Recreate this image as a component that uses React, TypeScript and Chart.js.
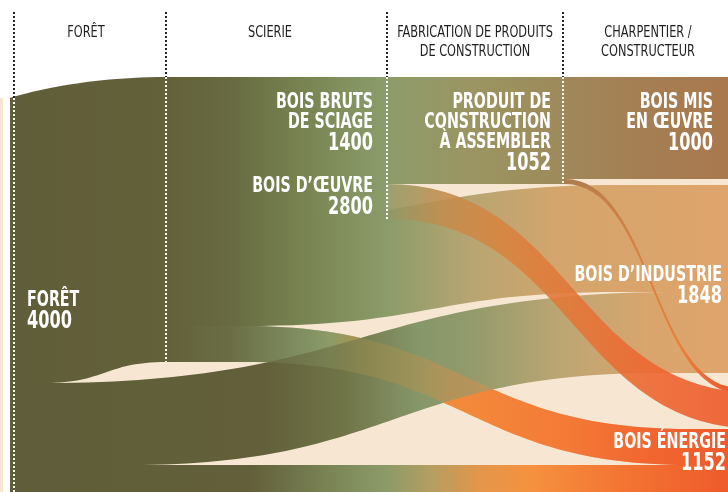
import React, { useEffect, useRef } from "react";
import { Chart, registerables } from "chart.js";

Chart.register(...registerables);

// ---------- DATA ----------
const STAGES: string[][] = [
  ["FORÊT"],
  ["SCIERIE"],
  ["FABRICATION DE PRODUITS", "DE CONSTRUCTION"],
  ["CHARPENTIER /", "CONSTRUCTEUR"],
];

const NODE_LABELS: string[][] = [
  ["FORÊT"],
  ["BOIS D’ŒUVRE"],
  ["BOIS BRUTS", "DE SCIAGE"],
  ["PRODUIT DE", "CONSTRUCTION", "À ASSEMBLER"],
  ["BOIS MIS", "EN ŒUVRE"],
  ["BOIS D’INDUSTRIE"],
  ["BOIS ÉNERGIE"],
];
const NODE_VALUES = [4000, 2800, 1400, 1052, 1000, 1848, 1152];

const FLOW_SOURCE = [0, 0, 0, 1, 1, 1, 2, 2, 3, 3];
const FLOW_TARGET = [1, 5, 6, 2, 5, 6, 3, 6, 4, 6];
const FLOW_VALUE = [2800, 800, 400, 1400, 1048, 352, 1052, 348, 1000, 52];

// ---------- LAYOUT (positions, not data) ----------
const X_MAX = 728;
const Y_MAX = 4833;
const NODE_X = [10, 166, 386, 562, 728, 728, 728];
const NODE_TOP = [963, 756, 756, 756, 756, 1817, 3811];
const NODE_BLOCK_END = [10, 245, 386, 565, 728, 728, 728];
// top edge curve [curveStart, curveEnd, handleStart, handleEnd] or null for straight flows
const FLOW_CURVE_TOP: (number[] | null)[] = [
  [10, 166, 0, 0.6],
  [45, 680, 0.5, 0.5],
  null,
  null,
  [245, 620, 0.5, 0.5],
  [245, 690, 0.5, 0.5],
  null,
  [386, 760, 0.5, 0.5],
  null,
  [565, 740, 0.5, 0.5],
];
// bottom edge curve (defaults to top edge curve)
const FLOW_CURVE_BOTTOM: (number[] | null)[] = [
  [45, 166, 0.5, 0.5],
  [130, 660, 0.5, 0.5],
  null,
  null,
  [245, 620, 0.5, 0.5],
  [245, 690, 0.5, 0.5],
  null,
  [386, 760, 0.5, 0.5],
  null,
  [565, 740, 0.5, 0.5],
];
// [flow index, opacity] in painting order
const DRAW_STEPS: [number, number][] = [
  [0, 1], [3, 1], [6, 1], [8, 1], [2, 1], [4, 1], [5, 1], [1, 1], [5, 0.35], [7, 0.9], [9, 1],
];
const STAGE_LINE_X = [14, 166, 387, 563];
const STAGE_LINE_NODE = [0, 1, 2, 3];
const HEADER_X = [86, 270, 475, 648];
// [x, align, baseline offset from node top in px]
const LABEL_POS: [number, CanvasTextAlign, number][] = [
  [27, "left", 208],
  [373, "right", 115],
  [373, "right", 31],
  [551, "right", 31],
  [713, "right", 31],
  [722, "right", 96],
  [726, "right", 60],
];

// ---------- STYLE ----------
const BEIGE = "#F6E6D2";
const FLOW_COLORS: [number, string][][] = [
  [[10, "#605D3A"], [166, "#636139"]],
  [[10, "#605D3A"], [260, "#625F3A"], [340, "#6F7346"], [420, "#86976A"], [470, "#929A6B"], [560, "#BCA673"], [650, "#D9A56D"], [728, "#DFA46B"]],
  [[10, "#605D3A"], [250, "#625F3A"], [330, "#7A8556"], [385, "#8B9A68"], [430, "#B39E62"], [480, "#E3964A"], [530, "#F5913E"], [620, "#F37533"], [728, "#EE5A2B"]],
  [[166, "#636139"], [230, "#686A41"], [300, "#778350"], [386, "#8B9D6B"]],
  [[166, "#636139"], [230, "#686A41"], [300, "#778350"], [390, "#8C9C6A"], [470, "#B7A572"], [560, "#D4A56C"], [728, "#DFA46B"]],
  [[166, "#636139"], [230, "#6B6E45"], [300, "#7F8E60"], [330, "#8C9B68"], [360, "#A99450"], [415, "#C98F42"], [450, "#F28B3B"], [560, "#F47B36"], [650, "#F16630"], [728, "#EE5A2B"]],
  [[386, "#8C9C6A"], [470, "#9A9562"], [562, "#9E8A5B"]],
  [[386, "#8E9A68"], [440, "#C08E50"], [500, "#D8843F"], [580, "#E47537"], [660, "#EE6530"], [728, "#EE5A2B"]],
  [[562, "#9F885A"], [640, "#A57F54"], [728, "#A9784D"]],
  [[562, "#A97B50"], [620, "#D07F45"], [680, "#E8803A"], [728, "#EE5A2B"]],
];
const FONT_STACK = '"Liberation Sans Narrow", "DejaVu Sans Condensed", "Roboto", sans-serif';

function drawScaledText(ctx: CanvasRenderingContext2D, text: string, x: number, y: number, sx: number, align: CanvasTextAlign) {
  ctx.save();
  ctx.translate(x, y);
  ctx.scale(sx, 1);
  ctx.textAlign = align;
  ctx.textBaseline = "alphabetic";
  ctx.fillText(text, 0, 0);
  ctx.restore();
}

function makeGradient(ctx: CanvasRenderingContext2D, stops: [number, string][], X: (v: number) => number) {
  const gx0 = X(stops[0][0]);
  const gx1 = X(stops[stops.length - 1][0]);
  const grad = ctx.createLinearGradient(gx0, 0, gx1, 0);
  stops.forEach(([sx, col]) => grad.addColorStop((X(sx) - gx0) / (gx1 - gx0), col));
  return grad;
}

function drawSankey(chart: any) {
  const ctx: CanvasRenderingContext2D = chart.ctx;
  const xs = chart.scales.x;
  const ys = chart.scales.y;
  const X = (v: number) => Math.round(xs.getPixelForValue(v));
  const Y = (v: number) => Math.round(ys.getPixelForValue(v));

  // stacking offsets
  const outOff = NODE_TOP.slice();
  const inOff = NODE_TOP.slice();
  const srcTop: number[] = [];
  const tgtTop: number[] = [];
  FLOW_VALUE.forEach((v, i) => {
    srcTop[i] = outOff[FLOW_SOURCE[i]];
    outOff[FLOW_SOURCE[i]] += v;
  });
  const inOrder = FLOW_VALUE.map((_, i) => i).sort(
    (a, b) => FLOW_TARGET[a] - FLOW_TARGET[b] || FLOW_SOURCE[b] - FLOW_SOURCE[a]
  );
  inOrder.forEach((i) => {
    tgtTop[i] = inOff[FLOW_TARGET[i]];
    inOff[FLOW_TARGET[i]] += FLOW_VALUE[i];
  });

  const H = chart.height;
  ctx.save();
  // background
  ctx.fillStyle = BEIGE;
  ctx.fillRect(X(NODE_X[1]), Y(NODE_TOP[1]), X(X_MAX) - X(NODE_X[1]), H);
  ctx.fillRect(X(NODE_X[0]), Y(NODE_TOP[0]), X(NODE_X[1]) - X(NODE_X[0]) + 1, H);
  ctx.fillRect(0, Y(NODE_TOP[0]), 3, H);

  // node blocks (solid part of a node before its flows split)
  NODE_VALUES.forEach((v, n) => {
    const x0 = X(NODE_X[n]);
    const x1 = X(NODE_BLOCK_END[n]);
    if (x1 <= x0) return;
    const first = FLOW_SOURCE.indexOf(n);
    if (first < 0) return;
    ctx.fillStyle = makeGradient(ctx, FLOW_COLORS[first], X);
    ctx.fillRect(x0, Y(NODE_TOP[n]), x1 - x0, Y(NODE_TOP[n] + v) - Y(NODE_TOP[n]));
  });

  // flows
  DRAW_STEPS.forEach(([i, alpha]) => {
    const x0 = X(NODE_X[FLOW_SOURCE[i]]);
    const x1 = X(NODE_X[FLOW_TARGET[i]]);
    const ct = FLOW_CURVE_TOP[i];
    const cb = FLOW_CURVE_BOTTOM[i] || ct;
    const t0 = ct ? X(ct[0]) : x0;
    const t1 = ct ? X(ct[1]) : x1;
    const th0 = ct ? ct[2] : 0.5;
    const th1 = ct ? ct[3] : 0.5;
    const b0 = cb ? X(cb[0]) : x0;
    const b1 = cb ? X(cb[1]) : x1;
    const bh0 = cb ? cb[2] : 0.5;
    const bh1 = cb ? cb[3] : 0.5;
    const dt = t1 - t0;
    const db = b1 - b0;
    const ys0 = Y(srcTop[i]);
    const ys1 = Y(srcTop[i] + FLOW_VALUE[i]);
    const yt0 = Y(tgtTop[i]);
    const yt1 = Y(tgtTop[i] + FLOW_VALUE[i]);
    const xe = Math.max(x1, t1, b1);

    ctx.beginPath();
    ctx.moveTo(x0, ys0);
    ctx.lineTo(t0, ys0);
    ctx.bezierCurveTo(t0 + th0 * dt, ys0, t1 - th1 * dt, yt0, t1, yt0);
    ctx.lineTo(xe, yt0);
    ctx.lineTo(xe, yt1);
    ctx.lineTo(b1, yt1);
    ctx.bezierCurveTo(b1 - bh1 * db, yt1, b0 + bh0 * db, ys1, b0, ys1);
    ctx.lineTo(x0, ys1);
    ctx.closePath();
    ctx.globalAlpha = alpha;
    ctx.fillStyle = makeGradient(ctx, FLOW_COLORS[i], X);
    ctx.fill();
  });
  ctx.globalAlpha = 1;

  // stage dotted lines
  ctx.lineWidth = 2;
  ctx.setLineDash([2, 2]);
  STAGE_LINE_X.forEach((lx, k) => {
    const n = STAGE_LINE_NODE[k];
    const top = Y(NODE_TOP[n]);
    const bot = Math.min(H, Y(NODE_TOP[n] + NODE_VALUES[n]));
    ctx.strokeStyle = "#222222";
    ctx.beginPath();
    ctx.moveTo(lx, 12);
    ctx.lineTo(lx, top);
    ctx.stroke();
    ctx.strokeStyle = "#ffffff";
    ctx.beginPath();
    ctx.moveTo(lx, top);
    ctx.lineTo(lx, bot);
    ctx.stroke();
  });
  ctx.setLineDash([]);

  // header
  ctx.fillStyle = "#1e1e1e";
  ctx.font = `16px ${FONT_STACK}`;
  const hsx = 44 / ctx.measureText("SCIERIE").width;
  STAGES.forEach((lines, k) => {
    lines.forEach((t, j) => drawScaledText(ctx, t, HEADER_X[k], 37 + j * 19, hsx, "center"));
  });

  // node labels
  ctx.fillStyle = "#ffffff";
  ctx.font = `bold 21px ${FONT_STACK}`;
  const lsx = 97 / ctx.measureText("BOIS BRUTS").width;
  ctx.font = `bold 24px ${FONT_STACK}`;
  const nsx = 45 / ctx.measureText("1848").width;
  NODE_LABELS.forEach((lines, n) => {
    const [lx, align, off] = LABEL_POS[n];
    const base = Y(NODE_TOP[n]) + off;
    ctx.font = `bold 21px ${FONT_STACK}`;
    lines.forEach((t, j) => drawScaledText(ctx, t, lx, base + j * 20, lsx, align));
    ctx.font = `bold 24px ${FONT_STACK}`;
    drawScaledText(ctx, String(NODE_VALUES[n]), lx, base + (lines.length - 1) * 20 + 22, nsx, align);
  });
  ctx.restore();
}

export default function App() {
  const ref = useRef<HTMLCanvasElement>(null);
  useEffect(() => {
    const canvas = ref.current;
    if (!canvas) return;
    const plugin = {
      id: "sankeyFlows",
      afterDraw(chart: any) {
        drawSankey(chart);
      },
    };
    const chart = new Chart(canvas, {
      type: "scatter",
      data: { datasets: [{ data: [], pointRadius: 0 }] },
      options: {
        responsive: false,
        animation: false,
        events: [],
        layout: { padding: 0 },
        plugins: { legend: { display: false }, tooltip: { enabled: false } },
        scales: {
          x: { type: "linear", min: 0, max: X_MAX, display: false },
          y: { type: "linear", min: 0, max: Y_MAX, reverse: true, display: false },
        },
      },
      plugins: [plugin],
    } as any);
    return () => chart.destroy();
  }, []);
  return (
    <div style={{ position: "fixed", left: 0, top: 0, width: 728, height: 492, background: "#ffffff" }}>
      <canvas ref={ref} width={728} height={492} style={{ display: "block", width: 728, height: 492 }} />
    </div>
  );
}
